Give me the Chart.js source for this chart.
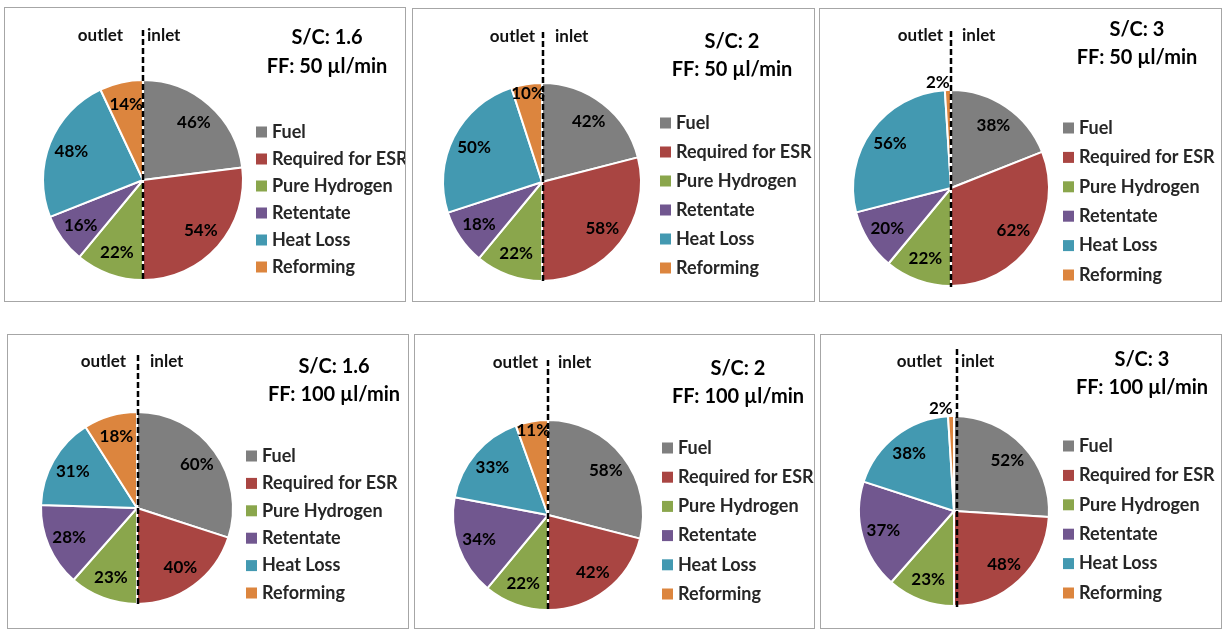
<!DOCTYPE html>
<html>
<head>
<meta charset="utf-8">
<script src="https://cdn.jsdelivr.net/npm/chart.js@4.4.1/dist/chart.umd.min.js"></script>
<style>
  body { margin: 0; background: #fff; width: 1225px; height: 635px; position: relative; overflow: hidden; }
  .panel { position: absolute; border: 1px solid #a6a6a6; box-sizing: border-box; }
  .panel canvas { position: absolute; left: 0; top: 0; }
</style>
</head>
<body>
<script>
// data
const categories = ['Fuel', 'Required for ESR', 'Pure Hydrogen', 'Retentate', 'Heat Loss', 'Reforming'];
const scRatios = ['1.6', '2', '3', '1.6', '2', '3'];
const feedFlows = ['50', '50', '50', '100', '100', '100'];
const fuel = [46, 42, 38, 60, 58, 52];
const requiredESR = [54, 58, 62, 40, 42, 48];
const pureHydrogen = [22, 22, 22, 23, 22, 23];
const retentate = [16, 18, 20, 28, 34, 37];
const heatLoss = [48, 50, 56, 31, 33, 38];
const reforming = [14, 10, 2, 18, 11, 2];

const colors = ['#7f7f7f', '#a94542', '#8aa64c', '#71578f', '#4399b1', '#dc853e'];

// page layout of each panel (page pixels)
const layouts = [
    { box: [4, 7, 406, 302], cx: 143, cy: 180, r: 100, dashX: 143, dashTop: 30, sideY: 36, outOff: -20, inOff: 4, titleX: 327, titleY: [38, 67], legX: 256, legY: 132, legStep: 27 },
    { box: [412, 8, 815, 302], cx: 542, cy: 182, r: 99, dashX: 543, dashTop: 32, sideY: 37, outOff: -8, inOff: 12, titleX: 732, titleY: [42, 70], legX: 660, legY: 123, legStep: 29 },
    { box: [819, 8, 1222, 302], cx: 951, cy: 188, r: 98, dashX: 951, dashTop: 31, sideY: 36, outOff: -8, inOff: 11, titleX: 1137, titleY: [30, 58], legX: 1063, legY: 128, legStep: 29.4 },
    { box: [7, 334, 409, 629], cx: 137, cy: 508, r: 96, dashX: 138, dashTop: 355, sideY: 362, outOff: -12, inOff: 12, titleX: 334, titleY: [367, 395], legX: 246, legY: 456, legStep: 27.4 },
    { box: [414, 334, 815, 629], cx: 548, cy: 515, r: 95, dashX: 548, dashTop: 360, sideY: 363, outOff: -10, inOff: 10, titleX: 738, titleY: [369, 397], legX: 662, legY: 448, legStep: 29.2 },
    { box: [820, 334, 1222, 629], cx: 954, cy: 511, r: 95, dashX: 957, dashTop: 349, sideY: 362, outOff: -15, inOff: 4, titleX: 1142, titleY: [360, 388], legX: 1063, legY: 446, legStep: 29.4 }
];

const FONT = 'Lato, "Open Sans", sans-serif';

const panelDecor = {
    id: 'panelDecor',
    afterDatasetsDraw(chart, args, opts) {
        const ctx = chart.ctx;
        const L = opts.layout;
        const ox = L.box[0] + 1, oy = L.box[1] + 1;
        const meta = chart.getDatasetMeta(0);
        const values = chart.data.datasets[0].data;
        ctx.save();

        // percentage labels
        ctx.font = 'bold 17px ' + FONT;
        ctx.fillStyle = '#000';
        ctx.textBaseline = 'middle';
        meta.data.forEach(function (arc, i) {
            const p = arc.getProps(['x', 'y', 'startAngle', 'endAngle', 'outerRadius'], true);
            const mid = (p.startAngle + p.endAngle) / 2;
            const v = values[i];
            if (v < 5) {
                const d = p.outerRadius * 1.08;
                ctx.textAlign = 'right';
                ctx.fillText(v + '%', p.x + Math.cos(mid) * d + 2, p.y + Math.sin(mid) * d);
            } else {
                const d = p.outerRadius * (v < 13 ? 0.9 : 0.77);
                ctx.textAlign = 'center';
                ctx.fillText(v + '%', p.x + Math.cos(mid) * d, p.y + Math.sin(mid) * d);
            }
        });

        // dashed inlet/outlet divider
        const dx = L.dashX - ox;
        ctx.strokeStyle = '#000';
        ctx.lineWidth = 2.5;
        ctx.setLineDash([6, 3]);
        ctx.beginPath();
        ctx.moveTo(dx, L.dashTop - oy);
        ctx.lineTo(dx, meta.data[0].y + meta.data[0].outerRadius + 1);
        ctx.stroke();
        ctx.setLineDash([]);

        ctx.font = 'bold 17px ' + FONT;
        ctx.fillStyle = '#111';
        ctx.textAlign = 'right';
        ctx.fillText('outlet', dx + L.outOff, L.sideY - oy);
        ctx.textAlign = 'left';
        ctx.fillText('inlet', dx + L.inOff, L.sideY - oy);

        // title
        ctx.font = 'bold 20px ' + FONT;
        ctx.fillStyle = '#000';
        ctx.textAlign = 'center';
        ctx.fillText('S/C: ' + opts.sc, L.titleX - ox, L.titleY[0] - oy);
        ctx.fillText('FF: ' + opts.ff + ' \u00b5l/min', L.titleX - ox, L.titleY[1] - oy);

        // legend
        ctx.font = 'bold 18px ' + FONT;
        ctx.textAlign = 'left';
        chart.data.labels.forEach(function (lab, i) {
            const y = L.legY - oy + i * L.legStep;
            ctx.fillStyle = colors[i];
            ctx.fillRect(L.legX - ox, y - 5.5, 11, 11);
            ctx.fillStyle = '#262626';
            ctx.fillText(lab, L.legX - ox + 16, y);
        });

        ctx.restore();
    }
};

layouts.forEach(function (L, k) {
    const w = L.box[2] - L.box[0], h = L.box[3] - L.box[1];
    const div = document.createElement('div');
    div.className = 'panel';
    div.style.left = L.box[0] + 'px';
    div.style.top = L.box[1] + 'px';
    div.style.width = w + 'px';
    div.style.height = h + 'px';
    const canvas = document.createElement('canvas');
    const cw = w - 2, ch = h - 2;
    canvas.width = cw;
    canvas.height = ch;
    canvas.style.width = cw + 'px';
    canvas.style.height = ch + 'px';
    div.appendChild(canvas);
    document.body.appendChild(div);

    const lx = L.cx - L.box[0] - 1, ly = L.cy - L.box[1] - 1;

    new Chart(canvas.getContext('2d'), {
        type: 'pie',
        data: {
            labels: categories,
            datasets: [{
                data: [fuel[k], requiredESR[k], pureHydrogen[k], retentate[k], heatLoss[k], reforming[k]],
                backgroundColor: colors,
                borderColor: '#ffffff',
                borderWidth: 2
            }]
        },
        options: {
            responsive: false,
            animation: false,
            radius: L.r,
            layout: {
                padding: { left: lx - L.r, right: cw - lx - L.r, top: ly - L.r, bottom: ch - ly - L.r }
            },
            plugins: {
                legend: { display: false },
                tooltip: { enabled: false },
                panelDecor: { layout: L, sc: scRatios[k], ff: feedFlows[k] }
            }
        },
        plugins: [panelDecor]
    });
});
</script>
</body>
</html>
